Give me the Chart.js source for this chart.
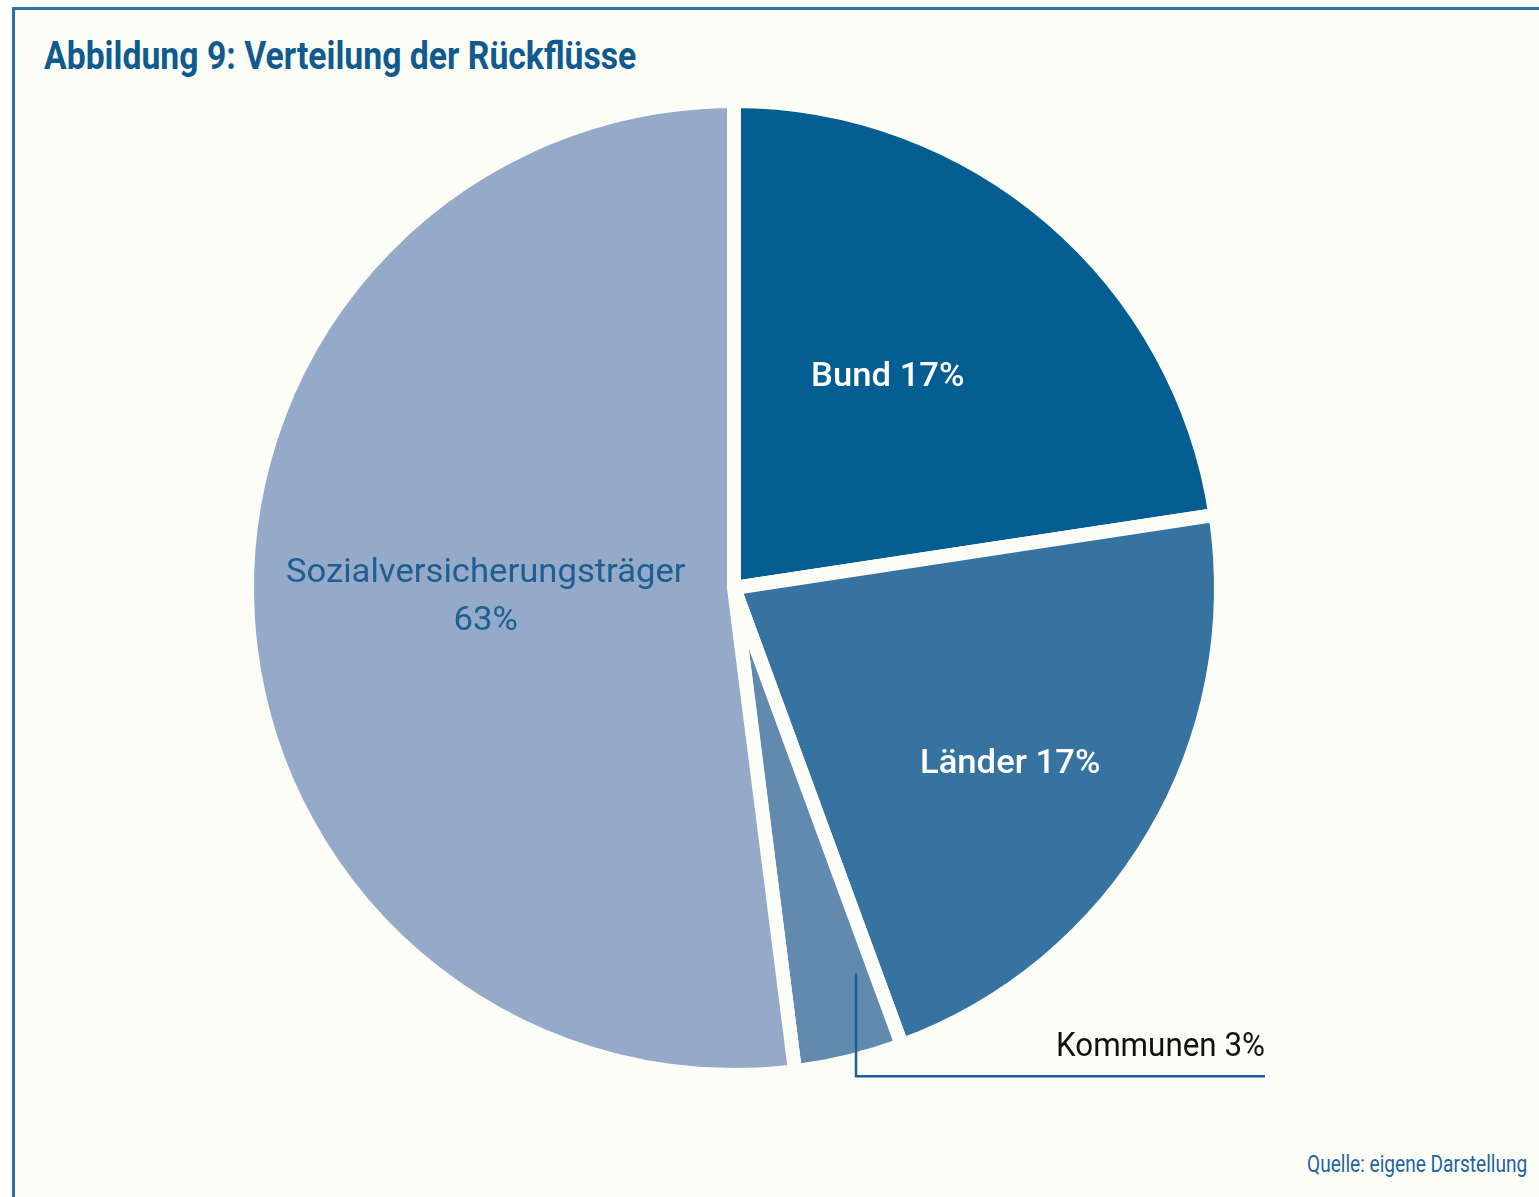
<!DOCTYPE html>
<html>
<head>
<meta charset="utf-8">
<script src="https://cdn.jsdelivr.net/npm/chart.js@4.4.1/dist/chart.umd.min.js"></script>
<style>
    html, body { margin: 0; padding: 0; background: #ffffff; }
    #wrap { position: relative; width: 1539px; height: 1197px; overflow: hidden; }
    #frame {
        position: absolute; left: 12px; top: 7px; width: 1540px; height: 1200px;
        background: #fdfdf8; border-left: 3px solid #2f72a8; border-top: 3px solid #2f72a8;
    }
    #title {
        position: absolute; left: 44px; top: 33px; margin: 0;
        font: bold 39px Roboto, "Liberation Sans", sans-serif; color: #0f5a8e;
        white-space: nowrap; transform: scaleX(0.865); transform-origin: 0 0;
    }
    #source {
        position: absolute; left: 1307px; top: 1151px;
        font: 23px Roboto, "Liberation Sans", sans-serif; color: #1f63a0;
        white-space: nowrap; transform: scaleX(0.83); transform-origin: 0 0;
    }
    #myChart { position: absolute; left: 0; top: 0; }
</style>
</head>
<body>
<div id="wrap">
    <div id="frame"></div>
    <h1 id="title">Abbildung 9: Verteilung der Rückflüsse</h1>
    <div id="source">Quelle: eigene Darstellung</div>
    <canvas id="myChart" width="1539" height="1197"></canvas>
</div>
<script>
// slices, clockwise from 12 o'clock (sizes as drawn in the figure)
var categories = ["Bund", "Länder", "Kommunen", "Sozialversicherungsträger"];
var shares = [22.6, 21.8, 3.6, 52.0];
// printed labels
var labelLines = [["Bund 17%"], ["Länder 17%"], ["Kommunen 3%"], ["Sozialversicherungsträger", "63%"]];
var colors = ["#055e91", "#3673a1", "#628aaf", "#94aac8"];

// where each label sits: fraction along the arc angle, fraction of radius
var labelPos = [
    { a: 0.44, r: 0.54, color: "#ffffff", weight: 500, sx: 1.05 },
    { a: 0.52, r: 0.67, color: "#ffffff", weight: 500, sx: 1.05 },
    { a: 0.2, r: 0.83, color: "#111111", weight: 400, sx: 0.95 },
    { a: 0.51, r: 0.51, color: "#1d5f93", weight: 400, sx: 1.05 },
];

var sliceLabels = {
    id: "sliceLabels",
    afterDatasetsDraw: function (chart) {
        var ctx = chart.ctx;
        var arcs = chart.getDatasetMeta(0).data;
        ctx.save();
        ctx.textAlign = "center";
        ctx.textBaseline = "alphabetic";
        for (let i = 0; i < arcs.length; i++) {
            var arc = arcs[i];
            var p = labelPos[i];
            var ang = arc.startAngle + (arc.endAngle - arc.startAngle) * p.a;
            var rad = arc.outerRadius * p.r;
            var x = arc.x + Math.cos(ang) * rad;
            var y = arc.y + Math.sin(ang) * rad;
            ctx.font = p.weight + " 33px Roboto, 'Liberation Sans', sans-serif";
            ctx.fillStyle = p.color;
            if (categories[i] == "Kommunen") {
                // leader line down and to the right
                ctx.strokeStyle = "#1a5f94";
                ctx.lineWidth = 2.5;
                ctx.beginPath();
                ctx.moveTo(x, y);
                ctx.lineTo(x, y + 103);
                ctx.lineTo(x + 409, y + 103);
                ctx.stroke();
                ctx.save();
                ctx.translate(x + 409, y + 83);
                ctx.scale(p.sx, 1);
                ctx.textAlign = "right";
                ctx.fillText(labelLines[i][0], 0, 0);
                ctx.restore();
                continue;
            }
            var lines = labelLines[i];
            for (let j = 0; j < lines.length; j++) {
                ctx.save();
                ctx.translate(x, y + 11 + (j - (lines.length - 1) / 2) * 48);
                ctx.scale(p.sx, 1);
                ctx.fillText(lines[j], 0, 0);
                ctx.restore();
            }
        }
        ctx.restore();
    },
};

var config = {
    type: "pie",
    data: {
        labels: categories,
        datasets: [
            {
                data: shares,
                backgroundColor: colors,
                borderColor: "#fdfdf8",
                borderWidth: 14,
                hoverOffset: 0,
            },
        ],
    },
    options: {
        responsive: false,
        animation: false,
        events: [],
        layout: { padding: { left: 240, top: 94, right: 311, bottom: 115 } },
        plugins: {
            legend: { display: false },
            tooltip: { enabled: false },
            title: { display: false },
        },
    },
    plugins: [sliceLabels],
};

var ctx = document.getElementById("myChart").getContext("2d");
var myChart = new Chart(ctx, config);
</script>
</body>
</html>
